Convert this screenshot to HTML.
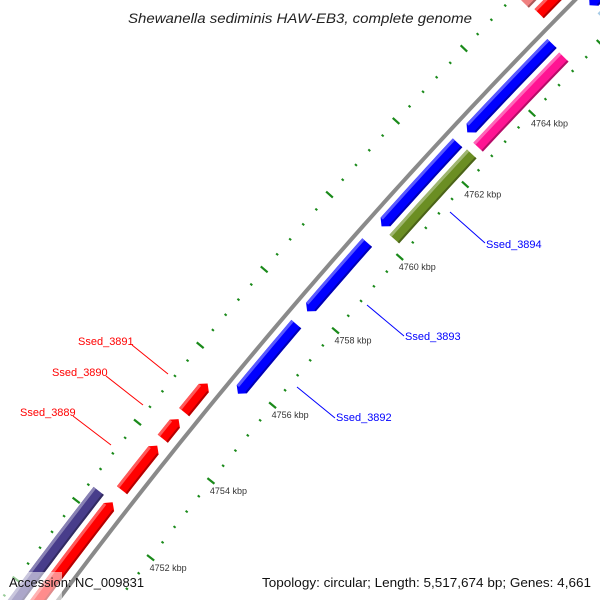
<!DOCTYPE html>
<html><head><meta charset="utf-8"><style>
html,body{margin:0;padding:0;background:#fff;width:600px;height:600px;overflow:hidden}
svg{display:block;overflow:hidden}
text{font-family:"Liberation Sans","DejaVu Sans",sans-serif}
</style></head><body>
<svg id="chart" width="600" height="600" viewBox="0 0 600 600" xmlns="http://www.w3.org/2000/svg">
<g id="scales"></g>
<g id="backbone"></g>
<g id="genes"></g>
<g id="ticklabels"></g>
<g font-size="11">
 <line x1="132" y1="345" x2="168" y2="374" stroke="#ff0000" stroke-width="1"/>
 <text x="78" y="345" fill="#ff0000">Ssed_3891</text>
 <line x1="106" y1="376" x2="143" y2="405" stroke="#ff0000" stroke-width="1"/>
 <text x="52" y="376" fill="#ff0000">Ssed_3890</text>
 <line x1="73" y1="416" x2="111" y2="445" stroke="#ff0000" stroke-width="1"/>
 <text x="20" y="416" fill="#ff0000">Ssed_3889</text>
 <line x1="297" y1="387" x2="335" y2="418" stroke="#0000ff" stroke-width="1"/>
 <text x="336" y="421" fill="#0000ff">Ssed_3892</text>
 <line x1="367" y1="305" x2="404" y2="336" stroke="#0000ff" stroke-width="1"/>
 <text x="405" y="340" fill="#0000ff">Ssed_3893</text>
 <line x1="450" y1="212" x2="485" y2="243" stroke="#0000ff" stroke-width="1"/>
 <text x="486" y="248" fill="#0000ff">Ssed_3894</text>
</g>
<text x="128" y="23" font-size="14" font-style="italic" fill="#222" textLength="344" lengthAdjust="spacingAndGlyphs">Shewanella sediminis HAW-EB3, complete genome</text>
<rect x="0" y="572" width="62" height="28" fill="#fff" opacity="0.55"/>
<text x="9" y="587" font-size="13" fill="#111" textLength="135" lengthAdjust="spacingAndGlyphs">Accession: NC_009831</text>
<text x="262" y="587" font-size="13" fill="#111" textLength="329" lengthAdjust="spacingAndGlyphs">Topology: circular; Length: 5,517,674 bp; Genes: 4,661</text>
</svg>
<script>
// ---- data ----
const geneNames  = ["g-bottom-red","Ssed_3889","Ssed_3890","Ssed_3891","Ssed_3892","Ssed_3893","g-blue-a","g-blue-b","Ssed_3894","g-pink","g-top-red","g-slate","g-top-coral","g-top-blue","g-top-lightblue"];
const geneStart  = [4749.0,4752.73,4754.06,4754.75,4755.73,4757.92,4760.22,4762.81,4760.20,4762.74,4765.56,4749.0,4765.5,4766.4,4766.4];
const geneEnd    = [4752.42,4753.88,4754.57,4755.50,4757.58,4759.78,4762.52,4765.31,4762.55,4765.28,4768.0,4752.43,4768.0,4768.0,4768.0];
const geneTrack  = [1,1,1,1,-1,-1,-1,-1,-2,-2,1,2,2,-1,-2];
const geneStrand = [1,1,1,1,-1,-1,-1,-1,0,0,1,0,0,-1,0];
const geneColor  = ["#ff0000","#ff0000","#ff0000","#ff0000","#0000ff","#0000ff","#0000ff","#0000ff","#6b8e23","#ff1493","#ff0000","#483d8b","#f08080","#0000ff","#7ab0d8"];
const tickStart = 4746, tickEnd = 4770, tickStep = 0.4;
const labelKbp = [4752,4754,4756,4758,4760,4762,4764];

// ---- geometry ----
const CX=4625, CY=4011, RB=5700;
const trackR = {"1":5716,"2":5734,"-1":5686,"-2":5668};
const TW=13;
function ang(k){return (37.66+(k-4752)*0.495)*Math.PI/180;}
function pt(k,r){const a=ang(k);return [CX-r*Math.cos(a), CY-r*Math.sin(a)];}
const NS="http://www.w3.org/2000/svg";
function mk(tag,attrs,parent){const e=document.createElementNS(NS,tag);for(const k in attrs)e.setAttribute(k,attrs[k]);parent.appendChild(e);return e;}
function arcPts(a,b,r){const p=[];const n=Math.max(2,Math.ceil((b-a)/0.2));for(let i=0;i<=n;i++)p.push(pt(a+(b-a)*i/n,r));return p;}
function ps(arr){return arr.map(p=>p[0].toFixed(2)+","+p[1].toFixed(2)).join(" ");}
function lighten(c,f){const n=parseInt(c.slice(1),16);let r=n>>16,g=(n>>8)&255,b=n&255;r=Math.round(r+(255-r)*f);g=Math.round(g+(255-g)*f);b=Math.round(b+(255-b)*f);return "rgb("+r+","+g+","+b+")";}
function darken(c,f){const n=parseInt(c.slice(1),16);let r=n>>16,g=(n>>8)&255,b=n&255;return "rgb("+Math.round(r*f)+","+Math.round(g*f)+","+Math.round(b*f)+")";}

// backbone
const bb=document.getElementById('backbone');
const bbl=mk('polyline',{points:ps(arcPts(4745,4770,RB)),fill:"none",stroke:"#8a8a8a","stroke-width":4},bb);



// scales
const sc=document.getElementById('scales');
const scaleR=[5652,5746];
for(const R of scaleR){
  const nT=Math.round((tickEnd-tickStart)/tickStep);
  for(let i=0;i<=nT;i++){
    const k=tickStart+i*tickStep;
    const major=Math.abs(k/2-Math.round(k/2))<1e-6;
    const h=major?4.5:1.3;
    const p1=pt(k,R-h),p2=pt(k,R+h);
    const l=mk('line',{x1:p1[0],y1:p1[1],x2:p2[0],y2:p2[1],stroke:"#1a8a1a","stroke-width":major?2.2:2},sc);
    
    
  }
}
const tl=document.getElementById('ticklabels');
for(const k of labelKbp){
  const p=pt(k,5652);
  const t=mk('text',{x:p[0]-1,y:p[1]+13,"font-size":9,fill:"#333"},tl);
  t.textContent=k+" kbp";
  
  
}

// genes
const gg=document.getElementById('genes');
for(let i=0;i<geneNames.length;i++){
  const r=trackR[String(geneTrack[i])], a=geneStart[i], b=geneEnd[i], s=geneStrand[i], c=geneColor[i];
  const ro=r+TW/2, ri=r-TW/2, hd=0.12;
  let poly;
  if(s===1){
    poly=arcPts(a,b-hd,ro).concat([pt(b,r)]).concat(arcPts(a,b-hd,ri).reverse());
  }else if(s===-1){
    poly=[pt(a,r)].concat(arcPts(a+hd,b,ro)).concat(arcPts(a+hd,b,ri).reverse());
  }else{
    poly=arcPts(a,b,ro).concat(arcPts(a,b,ri).reverse());
  }
  const g=mk('g',{},gg);
  
  
  const m=mk('polygon',{points:ps(poly),fill:c},g);
  
  
  const a2=s===-1?a+hd:a, b2=s===1?b-hd:b;
  const hl=mk('polygon',{points:ps(arcPts(a2,b2,ro).concat(arcPts(a2,b2,ro-3).reverse())),fill:lighten(c,0.35)},g);
  
  
  const sh=mk('polygon',{points:ps(arcPts(a2,b2,ri+2).concat(arcPts(a2,b2,ri).reverse())),fill:darken(c,0.7)},g);
  
  
}
</script>
</body></html>
